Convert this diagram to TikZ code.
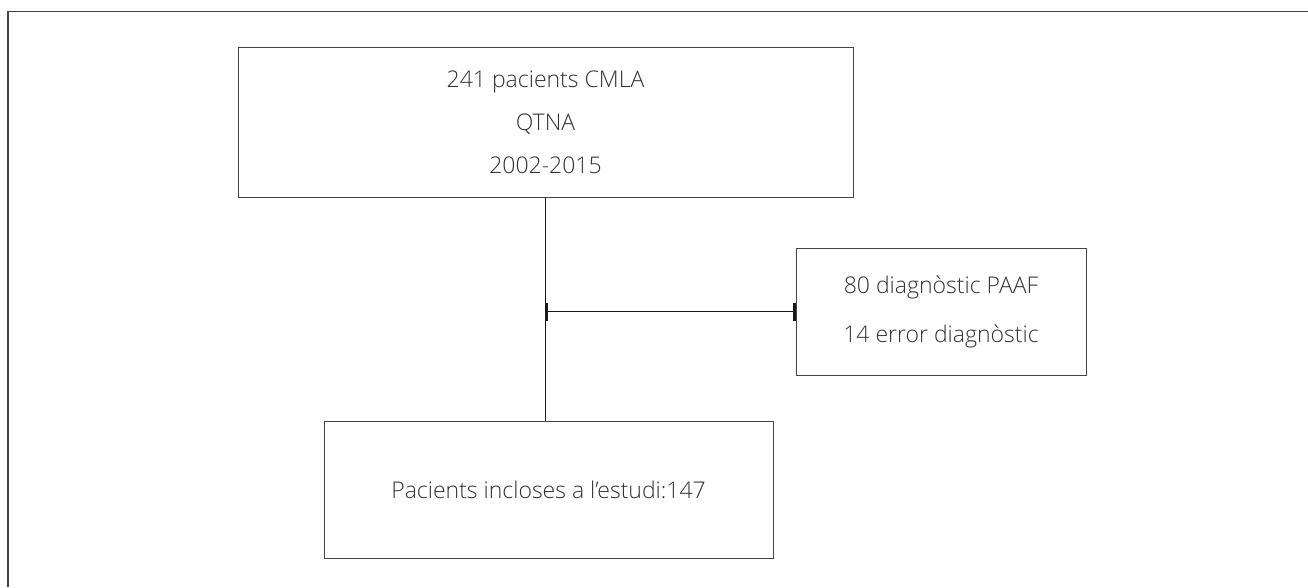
\documentclass[tikz,border=0pt]{standalone}
\usepackage{fontspec}
\setmainfont{Open Sans Light}
\usetikzlibrary{arrows.meta}
\definecolor{txt}{HTML}{333333}
\definecolor{frm}{HTML}{444444}
\tikzset{
  box/.style={draw=frm, line width=1pt, rectangle, inner sep=0pt, align=center,
    text=txt, font=\fontsize{23}{43}\selectfont},
  conn/.style={draw=black!90, line width=1.2pt},
  bartip/.style={{Bar[width=18pt,line width=2.4pt]}-{Bar[width=18pt,line width=2.4pt]}}
}
\begin{document}
\begin{tikzpicture}[x=1pt,y=-1pt]
\useasboundingbox (0,0) rectangle (1308,587);
\draw[frm, line width=1.6pt] (8,587) -- (8,11.5) -- (1308,11.5);
\node[box, minimum width=615pt, minimum height=150pt] (top) at (545.5,122)
  {241 pacients CMLA\\QTNA\\2002-2015};
\node[box, minimum width=290pt, minimum height=127pt,
  font=\fontsize{23}{49}\selectfont] (side) at (941,311.5)
  {80 diagnòstic PAAF\\14 error diagnòstic};
\node[box, minimum width=449pt, minimum height=137pt] (bot) at (548.5,489.5)
  {Pacients incloses a l’estudi:147};
\coordinate (j) at (top.south |- side.west);
\draw[conn] (top.south) -- (top.south |- bot.north);
\draw[conn, bartip] (j) -- (side.west);
\end{tikzpicture}
\end{document}
